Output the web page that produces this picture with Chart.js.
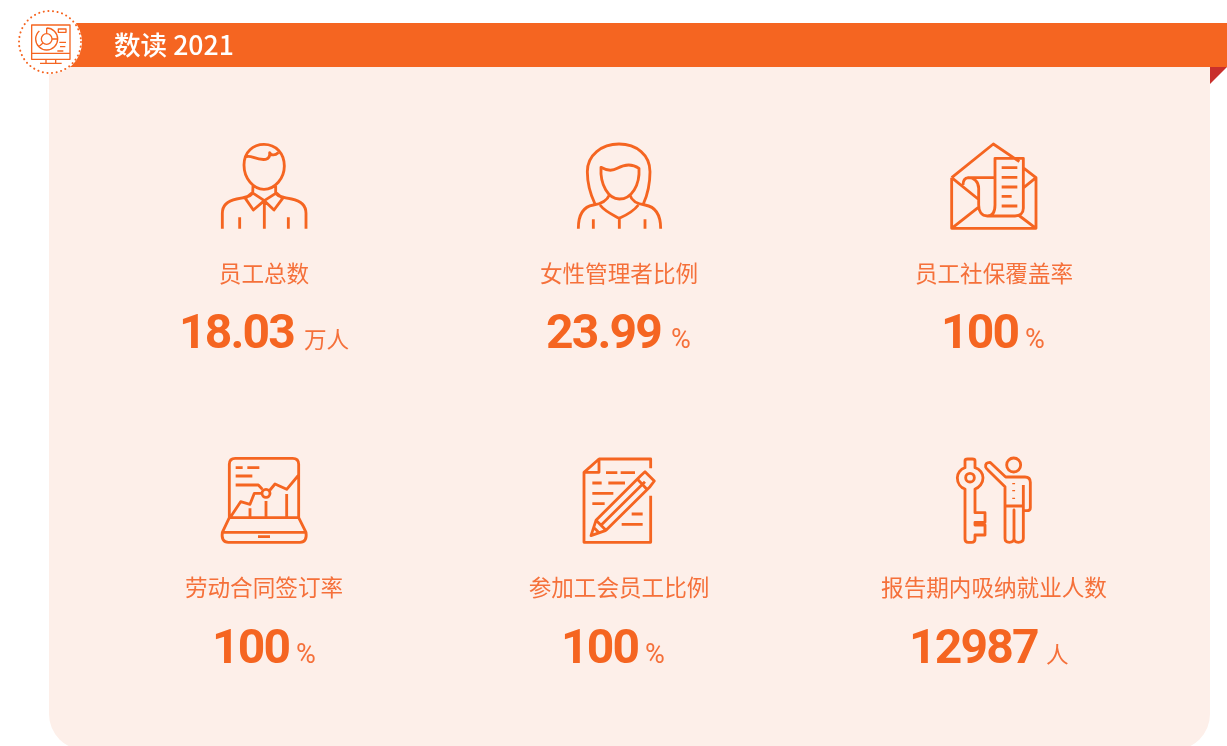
<!DOCTYPE html>
<html>
<head>
<meta charset="utf-8">
<title>数读 2021</title>
<script src="https://cdn.jsdelivr.net/npm/chart.js@4/dist/chart.umd.min.js"></script>
<style>
  html, body { margin: 0; padding: 0; background: #fff; overflow: hidden; }
  canvas { display: block; }
</style>
</head>
<body>
<canvas id="grafica" width="1227" height="746"></canvas>
<script>
// Datos
const titulo = "数读 2021";
const categorias = ["员工总数", "女性管理者比例", "员工社保覆盖率", "劳动合同签订率", "参加工会员工比例", "报告期内吸纳就业人数"];
const valores = ["18.03", "23.99", "100", "100", "100", "12987"];
const unidades = ["万人", "%", "%", "%", "%", "人"];

// Posicion de cada tarjeta (ejes en pixeles)
const centroX = [264, 619, 994, 264, 619, 994];
const centroY = [273, 273, 273, 587, 587, 587];
const valorX = [179, 546, 941, 212, 561, 909];
const unidadX = [304, 671, 1025, 296, 645, 1046];
const baseY = [348, 348, 348, 663, 663, 663];

const NARANJA = "#f56521";
const TEXTO = "#f5703a";
const FONDO = "#fdefe9";
const ROJO = "#c9302c";
const CJK = '"Noto Sans CJK SC", "Noto Sans", sans-serif';

// Iconos: trazos en coordenadas x3, [anclaX, anclaY, path]
const iconos = [
  [282, 429, "M222 105C222 65 250 43 282 43C318 43 343 70 343 108C343 145 315 178 282 178C250 178 222 145 222 105ZM225 82C240 70 255 92 287 88C296 86 300 78 299 68C304 76 314 78 325 68M249 168L248 190C240 200 225 203 200 207C175 212 157 225 157 250L157 296M317 168L317 190C325 200 340 203 365 207C390 212 408 225 408 250L408 296M248 187L226 205L250 240L283 212L312 240L338 205L317 187M250 190L283 212L317 190M283 212L283 296M209 262L209 296M355 262L355 296"],
  [267, 429, "M195 222C180 190 172 160 172 125C172 75 215 42 267 42C320 42 360 75 360 125C360 160 352 195 340 222M213 112C235 125 250 122 262 115C280 105 305 100 327 115C330 165 305 207 268 207C235 207 210 165 213 112ZM238 195C230 215 210 222 190 225C160 230 145 255 145 296M210 225C225 245 250 255 268 265C290 255 310 245 325 225M300 195C305 215 325 222 345 225C375 230 392 255 392 296M190 268L190 296M268 265L268 296M345 268L345 296"],
  [282, 429, "M155 143L155 295L408 295L408 143L372 115M155 143L280 42L358 95M155 143L238 210M155 295L235 232M355 255L408 295M408 143L372 172M285 143L285 85L370 85L370 235C370 250 360 258 345 258L262 258C245 258 236 245 236 225L236 175C236 155 222 143 205 143L285 143M205 143C195 144 189 152 189 165M262 258C278 258 285 245 285 225L285 143M305 113L352 113M305 142L352 142M305 171L352 171M305 199L335 199M305 228L352 228"],
  [282, 426, "M178 218L178 58Q178 40 196 40L368 40Q386 40 386 58L386 218M178 218L386 218L408 262Q412 292 390 292L175 292Q153 292 157 262ZM157 262L408 262M264 275L300 275M197 68L218 68M232 68L268 68M197 93L247 93M197 120L265 120L277 133M182 215L212 170L240 178L253 145L276 145M300 135L315 117L350 133L386 90M240 190L240 218M288 168L288 218M350 147L350 218M300 145A12 12 0 1 1 276 145A12 12 0 1 1 300 145Z"],
  [297, 426, "M237 42L392 42L392 70M392 152L392 292L192 292L192 82L237 42L237 82L192 82M258 83L292 83M302 83L345 83M217 114L245 114M265 114L315 114M217 145L280 145M217 176L254 176M335 207L368 207M305 238L368 238M362 92L375 80L403 108L390 125L258 256L228 226ZM352 102L382 134M243 241L375 110M228 226L213 272L258 256M222 248L238 264"],
  [357, 426, "M270 68L270 47Q270 42 278 42L292 42Q300 42 300 47L300 68C315 72 324 85 324 98C324 115 313 128 300 132L300 203L330 203L330 232L300 232L300 240L330 240L330 270L300 270L300 282Q300 292 290 292L280 292Q270 292 270 282L270 132C257 128 247 115 247 98C247 85 256 72 270 68ZM298 98A13 13 0 1 1 272 98A13 13 0 1 1 298 98ZM437 60A21 21 0 1 1 395 60A21 21 0 1 1 437 60ZM332 66Q330 52 345 52L392 96L450 96Q466 96 466 112L466 188Q466 197 456 197L445 197L445 280Q445 292 430 292Q417 292 417 280L417 195L417 280Q417 292 403 292Q390 292 390 280L390 125L338 74Q334 71 332 66ZM390 183L445 183M445 120L445 197M416 114L416 118M416 135L416 139M416 158L416 162"]
];
const iconoPantalla = "M65 60L180 60L180 163L65 163ZM65 145L180 145M108 163L108 175M137 163L137 175M90 175L155 175M145 72L168 72L168 82L145 82ZM148 112L168 112M150 125L166 125M142 138L160 138M126 102A16 16 0 1 1 94 102A16 16 0 1 1 126 102ZM110 69A33 33 0 0 1 143 102A33 33 0 0 1 110 135A33 33 0 0 1 77 102A33 33 0 0 1 88 78M110 69L110 86M143 102L126 102M99 114L86 125";

function trazar(ctx, path, x, y, ancho) {
  ctx.save();
  ctx.translate(x, y);
  ctx.scale(1 / 3, 1 / 3);
  ctx.strokeStyle = NARANJA;
  ctx.lineWidth = ancho;
  ctx.lineJoin = "round";
  ctx.stroke(new Path2D(path));
  ctx.restore();
}

// Fondo, cinta de titulo y circulo punteado
const fondoPlugin = {
  id: "fondo",
  beforeDatasetsDraw(chart) {
    const ctx = chart.ctx;
    ctx.save();
    ctx.fillStyle = FONDO;
    ctx.beginPath();
    ctx.roundRect(49, 60, 1161, 690, [0, 0, 36, 36]);
    ctx.fill();
    ctx.fillStyle = ROJO;
    ctx.beginPath();
    ctx.moveTo(1210, 67);
    ctx.lineTo(1227, 67);
    ctx.lineTo(1210, 84);
    ctx.fill();
    ctx.fillStyle = NARANJA;
    ctx.fillRect(60, 23, 1167, 44);
    ctx.fillStyle = "#fff";
    ctx.beginPath();
    ctx.arc(50, 42, 32, 0, Math.PI * 2);
    ctx.fill();
    ctx.strokeStyle = NARANJA;
    ctx.lineWidth = 2;
    ctx.lineCap = "round";
    ctx.setLineDash([0.1, 4.55]);
    ctx.beginPath();
    ctx.arc(50, 42, 31, 0, Math.PI * 2);
    ctx.stroke();
    ctx.restore();
    trazar(ctx, iconoPantalla, 10, 5, 4);

    ctx.save();
    ctx.fillStyle = "#fff";
    ctx.font = '500 26.6px ' + CJK;
    ctx.textBaseline = "alphabetic";
    ctx.fillText(titulo, 114, 55);
    ctx.restore();
  }
};

// Icono, categoria, valor y unidad de cada punto
const tarjetasPlugin = {
  id: "tarjetas",
  afterDatasetsDraw(chart) {
    const ctx = chart.ctx;
    const xs = chart.scales.x, ys = chart.scales.y;
    chart.getDatasetMeta(0).data.forEach((pt, i) => {
      const ic = iconos[i];
      trazar(ctx, ic[2], pt.x - ic[0] / 3, pt.y - ic[1] / 3, 8.5);

      ctx.save();
      ctx.fillStyle = TEXTO;
      ctx.font = '400 22.6px ' + CJK;
      ctx.textAlign = "center";
      ctx.textBaseline = "middle";
      ctx.fillText(categorias[i], pt.x, pt.y);

      ctx.textAlign = "left";
      ctx.textBaseline = "alphabetic";
      ctx.fillStyle = NARANJA;
      ctx.font = 'bold 48px Roboto, sans-serif';
      ctx.letterSpacing = "-1.8px";
      ctx.fillText(valores[i], xs.getPixelForValue(valorX[i]), ys.getPixelForValue(baseY[i]));
      ctx.letterSpacing = "0px";
      ctx.fillStyle = TEXTO;
      ctx.font = unidades[i] === "%" ? '400 27px Roboto, sans-serif' : '400 22.6px ' + CJK;
      ctx.fillText(unidades[i], xs.getPixelForValue(unidadX[i]), ys.getPixelForValue(baseY[i]));
      ctx.restore();
    });
  }
};

new Chart(document.querySelector("#grafica"), {
  type: "scatter",
  data: {
    datasets: [{
      label: titulo,
      data: centroX.map((x, i) => ({ x: x, y: centroY[i] })),
      pointRadius: 0
    }]
  },
  options: {
    responsive: false,
    animation: false,
    events: [],
    layout: { padding: 0 },
    plugins: { legend: { display: false }, tooltip: { enabled: false } },
    scales: {
      x: { type: "linear", min: 0, max: 1227, display: false },
      y: { type: "linear", min: 0, max: 746, reverse: true, display: false }
    }
  },
  plugins: [fondoPlugin, tarjetasPlugin]
});
</script>
</body>
</html>
